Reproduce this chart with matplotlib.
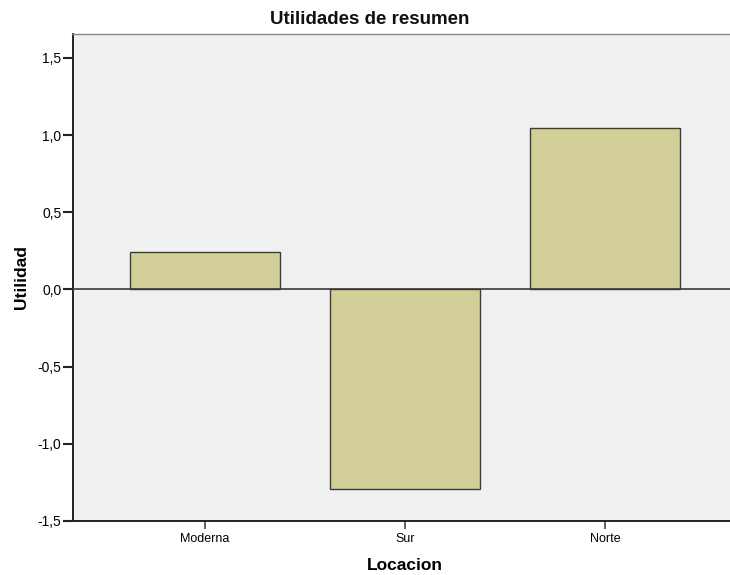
import matplotlib
matplotlib.use("Agg")
import matplotlib.pyplot as plt
from matplotlib.ticker import FuncFormatter

categories = ["Moderna", "Sur", "Norte"]
utilidad = [0.24, -1.295, 1.045]
yticks = [-1.5, -1.0, -0.5, 0.0, 0.5, 1.0, 1.5]

plt.rcParams['font.family'] = ['Liberation Sans', 'DejaVu Sans']

fig = plt.figure(figsize=(7.3, 5.75), dpi=100)
ax = fig.add_axes([72.5/730, 1-521/575, 1-72.5/730, (521-34)/575])
ax.set_facecolor("#F0F0F0")

x = list(range(len(categories)))
ax.bar(x, utilidad, width=0.75, color="#D3CF99", edgecolor="#3C3C3C", linewidth=1.0, zorder=3)
ax.axhline(0, color="#3A3A3A", linewidth=1.2, zorder=4)

ax.set_xlim(-0.6625, 2.625)
ax.set_ylim(-1.5, 1.655)
ax.set_yticks(yticks)
ax.yaxis.set_major_formatter(FuncFormatter(lambda v, p: f"{v:.1f}".replace(".", ",")))
ax.set_xticks(x)
ax.set_xticklabels(categories)

ax.tick_params(axis='y', direction='out', length=7, width=1.5, labelsize=10, color="#222222", pad=1)
ax.tick_params(axis='x', direction='out', length=6, width=1.2, labelsize=9, color="#444444", pad=3)

for s in ["left", "bottom"]:
    ax.spines[s].set_color("#222222")
    ax.spines[s].set_linewidth(1.4)
ax.spines["top"].set_color("#888888")
ax.spines["top"].set_linewidth(1.0)
ax.spines["right"].set_visible(False)

fig.text(370/730, 1-19/575, "Utilidades de resumen", fontsize=13.5, fontweight="bold",
         ha="center", va="center", color="#111111")
ax.set_ylabel("Utilidad", fontsize=12.5, fontweight="bold", labelpad=6)
ax.set_xlabel("Locacion", fontsize=12.5, fontweight="bold", labelpad=9)
ax.xaxis.set_label_coords((404.5-72.5)/(730-72.5), -(566-521)/487, transform=ax.transAxes)
ax.xaxis.label.set_va("center")

fig.savefig("out.png", dpi=100)
